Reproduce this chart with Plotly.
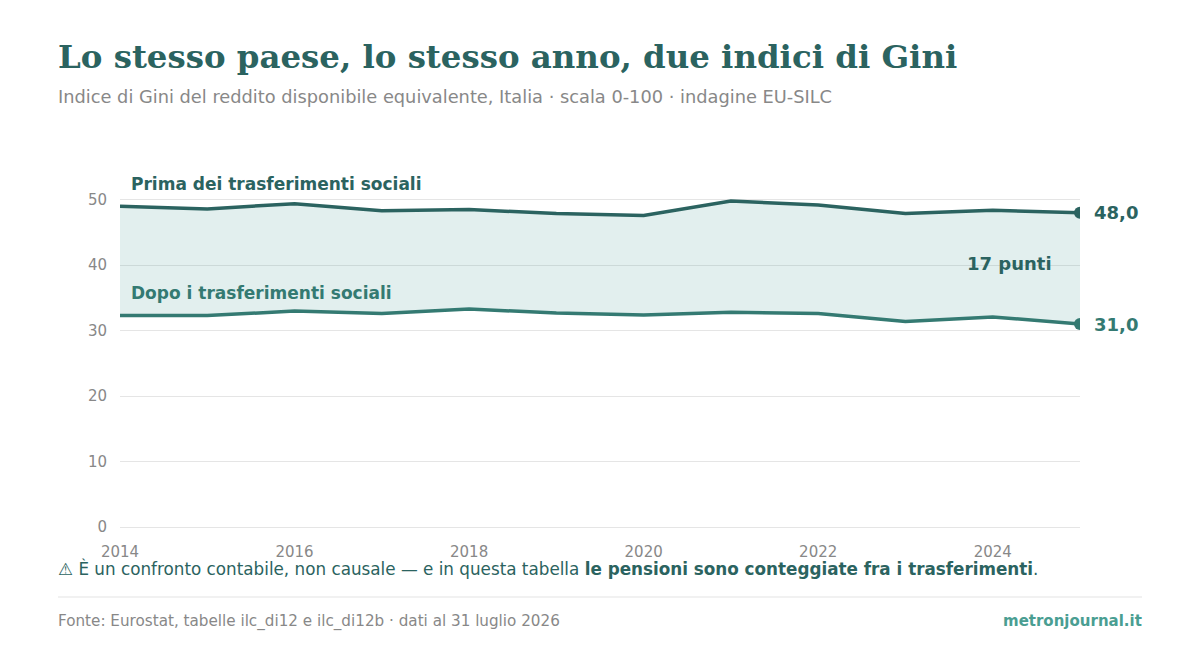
import plotly.graph_objects as go

years = list(range(2014, 2026))
gini_before = [49.0, 48.6, 49.4, 48.3, 48.5, 47.9, 47.6, 49.8, 49.2, 47.9, 48.4, 48.0]
gini_after = [32.3, 32.3, 33.0, 32.6, 33.3, 32.7, 32.4, 32.8, 32.6, 31.4, 32.1, 31.0]

DARK = "#2b6360"
MID = "#347a72"
GREY = "#888888"
FONT = "DejaVu Sans"

# the page body has an 8px margin, so the figure is drawn 8px smaller
OFF = 8
W, H = 1200 - 2 * OFF, 672 - 2 * OFF
# plot area, in page pixels
L, R, T, B = 120, 1080, 167, 527


def px(x):
    return (x - L) / (R - L)


def py(y):
    return (B - y) / (B - T)


def fmt(v):
    return f"{v:.1f}".replace(".", ",")


fig = go.Figure()

fig.add_trace(go.Scatter(x=years, y=gini_after, mode="lines",
                         line=dict(color=MID, width=3.5), hoverinfo="skip"))
fig.add_trace(go.Scatter(x=years, y=gini_before, mode="lines", fill="tonexty",
                         fillcolor="rgba(60,150,140,0.15)",
                         line=dict(color=DARK, width=3.5), hoverinfo="skip"))
# end markers
fig.add_trace(go.Scatter(x=[years[-1]], y=[gini_before[-1]], mode="markers",
                         marker=dict(color=DARK, size=12), hoverinfo="skip"))
fig.add_trace(go.Scatter(x=[years[-1]], y=[gini_after[-1]], mode="markers",
                         marker=dict(color=MID, size=12), hoverinfo="skip"))

gap = gini_before[-1] - gini_after[-1]

annotations = [
    dict(x=years[-1], y=gini_before[-1], text=f"<b>{fmt(gini_before[-1])}</b>",
         xanchor="left", xshift=12, showarrow=False,
         font=dict(family=FONT, size=18, color=DARK)),
    dict(x=years[-1], y=gini_after[-1], text=f"<b>{fmt(gini_after[-1])}</b>",
         xanchor="left", xshift=12, showarrow=False,
         font=dict(family=FONT, size=18, color=MID)),
    dict(x=2014.1, y=52.4, text="<b>Prima dei trasferimenti sociali</b>", xanchor="left",
         showarrow=False, font=dict(family=FONT, size=17, color=DARK)),
    dict(x=2014.1, y=35.7, text="<b>Dopo i trasferimenti sociali</b>", xanchor="left",
         showarrow=False, font=dict(family=FONT, size=17, color=MID)),
    dict(x=2024.7, y=40.2, text=f"<b>{gap:.0f} punti</b>", xanchor="right",
         showarrow=False, font=dict(family=FONT, size=18, color=DARK)),
    # title and subtitle
    dict(x=px(56), y=py(57), xref="paper", yref="paper", xanchor="left", yanchor="middle",
         text="<b>Lo stesso paese, lo stesso anno, due indici di Gini</b>", showarrow=False,
         font=dict(family="DejaVu Serif", size=32.4, color=DARK)),
    dict(x=px(56), y=py(96), xref="paper", yref="paper", xanchor="left", yanchor="middle",
         text="Indice di Gini del reddito disponibile equivalente, Italia · scala 0-100 · indagine EU-SILC",
         showarrow=False, font=dict(family=FONT, size=17.8, color=GREY)),
    # note
    dict(x=px(56), y=py(568), xref="paper", yref="paper", xanchor="left", yanchor="middle",
         text="⚠ È un confronto contabile, non causale — e in questa tabella "
              "<b>le pensioni sono conteggiate fra i trasferimenti</b>.",
         showarrow=False, font=dict(family=FONT, size=16.8, color=DARK)),
    # footer
    dict(x=px(56), y=py(621), xref="paper", yref="paper", xanchor="left", yanchor="middle",
         text="Fonte: Eurostat, tabelle ilc_di12 e ilc_di12b · dati al 31 luglio 2026",
         showarrow=False, font=dict(family=FONT, size=15.2, color=GREY)),
    dict(x=px(1144), y=py(621), xref="paper", yref="paper", xanchor="right", yanchor="middle",
         text="<b>metronjournal.it</b>", showarrow=False,
         font=dict(family=FONT, size=15, color="#4a9e92")),
]

fig.update_layout(
    width=W, height=H,
    margin=dict(l=L - OFF, r=W - (R - OFF), t=T - OFF, b=H - (B - OFF), pad=0),
    paper_bgcolor="white", plot_bgcolor="white",
    showlegend=False,
    font=dict(family=FONT, color=GREY),
    annotations=annotations,
    shapes=[dict(type="line", xref="paper", yref="paper",
                 x0=px(58), x1=px(1142), y0=py(597), y1=py(597),
                 line=dict(color="#e3e3e3", width=1))],
)

fig.update_xaxes(range=[2014, 2025], tickvals=[2014, 2016, 2018, 2020, 2022, 2024],
                 showgrid=False, zeroline=False, showline=False, ticks="",
                 ticklabelstandoff=14,
                 tickfont=dict(family=FONT, size=15, color=GREY))
fig.update_yaxes(range=[0, 55], tickvals=[0, 10, 20, 30, 40, 50],
                 showgrid=True, gridcolor="#e5e5e5", gridwidth=1,
                 zeroline=True, zerolinecolor="#e5e5e5", zerolinewidth=1,
                 showline=False, ticks="", ticklabelstandoff=12,
                 tickfont=dict(family=FONT, size=15, color=GREY))

fig.write_html("out.html")
